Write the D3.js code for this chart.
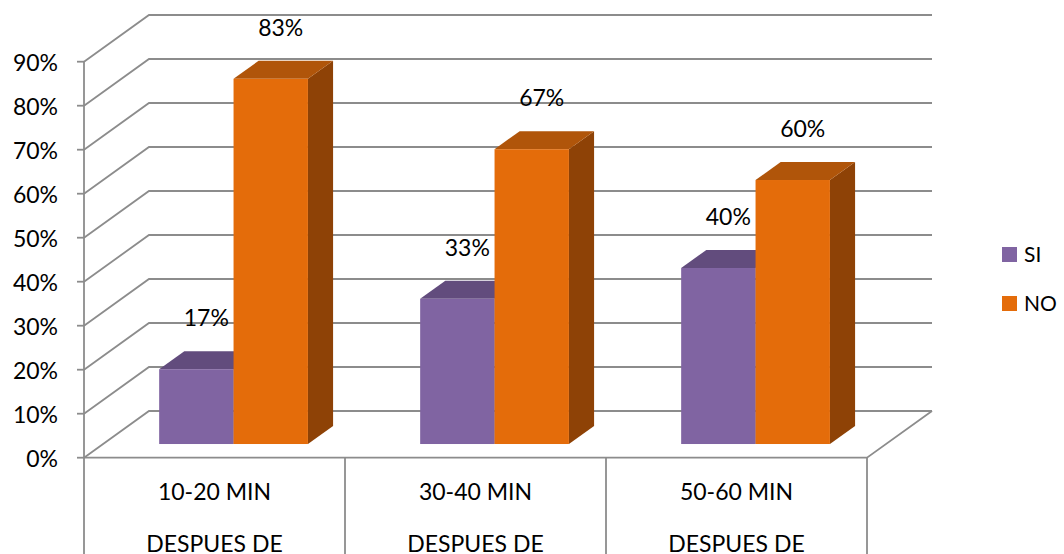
<!DOCTYPE html>
<html>
<head>
<meta charset="utf-8">
<script src="https://cdn.jsdelivr.net/npm/d3@7"></script>
<style>
  body { margin: 0; background: #fff; }
  svg text { font-family: Lato, "Open Sans", sans-serif; fill: #000; }
</style>
</head>
<body>
<svg id="chart" width="1064" height="554"></svg>
<script>
// Data
const categories = ["10-20 MIN", "30-40 MIN", "50-60 MIN"];
const subtitle = "DESPUES DE";
const seriesNames = ["SI", "NO"];
const siValues = [0.17, 0.33, 0.40];
const noValues = [0.83, 0.67, 0.60];
const yTicks = [0, 0.1, 0.2, 0.3, 0.4, 0.5, 0.6, 0.7, 0.8, 0.9];

const data = categories.map((c, i) => ({ cat: c, SI: siValues[i], NO: noValues[i] }));

// Layout
const dims = { width: 1064, height: 554, left: 84, right: 867, top: 61.7, bottom: 457.7 };
const depth = { dx: 65, dy: 46.7 };           // 3D offset of back wall
const barDepth = { f0: 0.293, f1: 0.68 };     // bar front/back as fraction of depth
const gridColor = "#8c8c8c";

const colors = {
  SI: { front: "#8064a2", top: "#624c7d", side: "#4e3b66" },
  NO: { front: "#e46c0a", top: "#b0550a", side: "#8e4206" }
};

const svg = d3.select("#chart");

const x0 = d3.scaleBand()
  .domain(categories)
  .range([dims.left, dims.right])
  .paddingInner(0.43)
  .paddingOuter(0.215);

const x1 = d3.scaleBand()
  .domain(seriesNames)
  .range([0, x0.bandwidth()]);

const cell = d3.scaleBand()
  .domain(categories)
  .range([dims.left, dims.right]);

const y = d3.scaleLinear()
  .domain([0, 0.9])
  .range([dims.bottom, dims.top]);

const grid = svg.append("g")
  .attr("stroke", gridColor)
  .attr("stroke-width", 1.8)
  .attr("fill", "none");

// back wall gridlines + left wall diagonals
yTicks.forEach(t => {
  const yf = y(t), yb = y(t) - depth.dy;
  grid.append("path")
    .attr("d", `M${dims.left},${yf}L${dims.left + depth.dx},${yb}L${dims.right + depth.dx},${yb}`);
  // tick mark
  grid.append("line")
    .attr("x1", dims.left - 7).attr("x2", dims.left)
    .attr("y1", yf).attr("y2", yf);
});

// floor front edge + right edge
grid.append("path")
  .attr("d", `M${dims.left},${y(0)}L${dims.right},${y(0)}L${dims.right + depth.dx},${y(0) - depth.dy}`);

// left axis line
grid.append("line")
  .attr("x1", dims.left).attr("x2", dims.left)
  .attr("y1", y(0.9)).attr("y2", y(0));

// category cell separators
const bounds = categories.map(c => cell(c)).concat([dims.right]);
bounds.forEach(bx => {
  grid.append("line")
    .attr("x1", bx).attr("x2", bx)
    .attr("y1", y(0)).attr("y2", dims.height);
});

// y tick labels
svg.append("g")
  .selectAll("text")
  .data(yTicks)
  .enter()
  .append("text")
  .attr("x", 58)
  .attr("y", d => y(d) + 9)
  .attr("text-anchor", "end")
  .style("font-size", "23px")
  .text(d => d3.format(".0%")(d));

// bars
const ox = barDepth.f0 * depth.dx, oy = barDepth.f0 * depth.dy;
const ddx = (barDepth.f1 - barDepth.f0) * depth.dx;
const ddy = (barDepth.f1 - barDepth.f0) * depth.dy;

const bars = [];
data.forEach(d => {
  seriesNames.forEach(s => {
    const xl = x0(d.cat) + x1(s) + ox;
    const xr = xl + x1.bandwidth();
    bars.push({ key: s, value: d[s], xl: xl, xr: xr, yt: y(d[s]) - oy, yb: y(0) - oy });
  });
});

const barG = svg.selectAll(".bar")
  .data(bars)
  .enter()
  .append("g")
  .attr("class", "bar");

barG.append("path")
  .attr("fill", d => colors[d.key].side)
  .attr("d", d => `M${d.xr},${d.yt}L${d.xr + ddx},${d.yt - ddy}L${d.xr + ddx},${d.yb - ddy}L${d.xr},${d.yb}Z`);

barG.append("path")
  .attr("fill", d => colors[d.key].top)
  .attr("d", d => `M${d.xl},${d.yt}L${d.xr},${d.yt}L${d.xr + ddx},${d.yt - ddy}L${d.xl + ddx},${d.yt - ddy}Z`);

barG.append("rect")
  .attr("fill", d => colors[d.key].front)
  .attr("x", d => d.xl)
  .attr("y", d => d.yt)
  .attr("width", d => d.xr - d.xl)
  .attr("height", d => d.yb - d.yt);

// value labels
svg.selectAll(".bar-label")
  .data(bars)
  .enter()
  .append("text")
  .attr("class", "bar-label")
  .attr("x", d => (d.xl + d.xr) / 2 + 10)
  .attr("y", d => d.yt - 43)
  .attr("text-anchor", "middle")
  .style("font-size", "23px")
  .text(d => d3.format(".0%")(d.value));

// category labels
const catG = svg.selectAll(".cat")
  .data(categories)
  .enter()
  .append("g")
  .attr("class", "cat");

catG.append("text")
  .attr("x", d => cell(d) + cell.bandwidth() / 2)
  .attr("y", 500)
  .attr("text-anchor", "middle")
  .style("font-size", "23px")
  .text(d => d);

catG.append("text")
  .attr("x", d => cell(d) + cell.bandwidth() / 2)
  .attr("y", 552)
  .attr("text-anchor", "middle")
  .style("font-size", "23px")
  .text(subtitle);

// legend
const legend = svg.selectAll(".legend")
  .data(seriesNames)
  .enter()
  .append("g")
  .attr("class", "legend")
  .attr("transform", (d, i) => `translate(1002, ${247 + i * 49})`);

legend.append("rect")
  .attr("width", 15)
  .attr("height", 15)
  .style("fill", d => colors[d].front);

legend.append("text")
  .attr("x", 22)
  .attr("y", 15)
  .style("font-size", "21px")
  .text(d => d);
</script>
</body>
</html>
